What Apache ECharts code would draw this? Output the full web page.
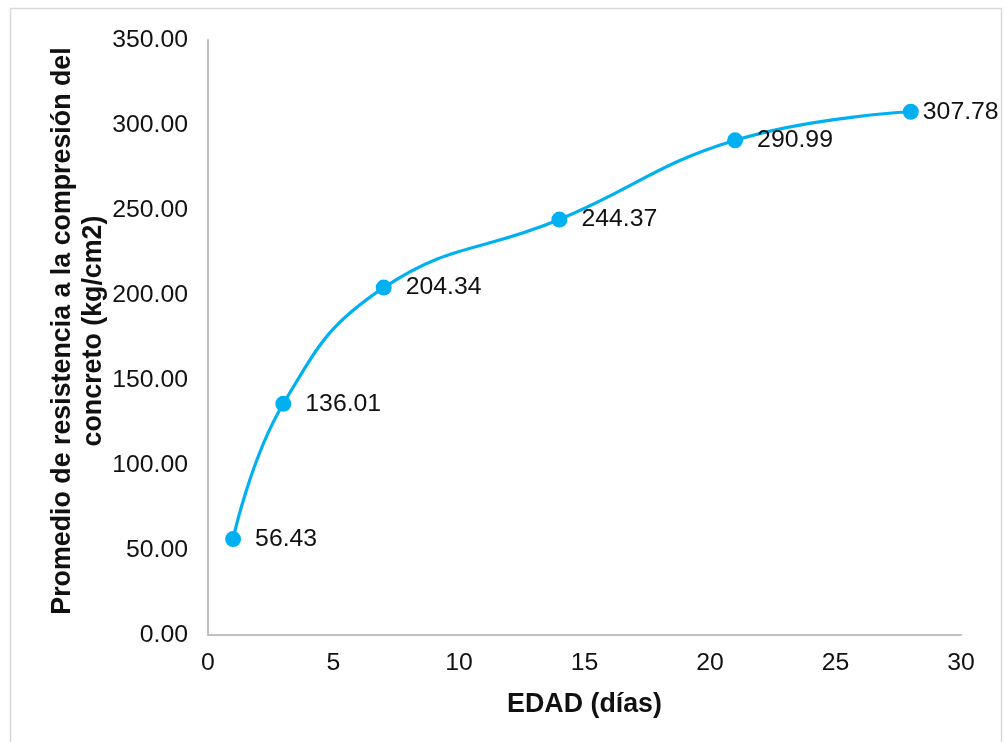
<!DOCTYPE html>
<html>
<head>
<meta charset="utf-8">
<script src="https://cdn.jsdelivr.net/npm/echarts@6/dist/echarts.min.js"></script>
<style>
html,body{margin:0;padding:0;background:#fff;}
#c{width:1005px;height:742px;}
</style>
</head>
<body>
<div id="c"></div>
<script>
var edadDias = [1, 3, 7, 14, 21, 28];
var resistencia = [56.43, 136.01, 204.34, 244.37, 290.99, 307.78];
var xTitle = 'EDAD (días)';
var yTitleLines = ['Promedio de resistencia a la compresión del', 'concreto (kg/cm2)'];

var chart = echarts.init(document.getElementById('c'), null, {renderer: 'canvas'});
var font = 'Liberation Sans, Arial, sans-serif';
var seriesData = edadDias.map(function (d, i) {
  var item = {value: [d, resistencia[i]]};
  if (i === edadDias.length - 1) { item.label = {distance: 4}; }
  return item;
});
chart.setOption({
  backgroundColor: '#fff',
  animation: false,
  grid: {left: 208, right: 44, top: 40, bottom: 107},
  xAxis: {
    type: 'value', min: 0, max: 30, interval: 5,
    axisLine: {show: true, lineStyle: {color: '#BFBFBF', width: 2}},
    axisTick: {show: false},
    splitLine: {show: false},
    axisLabel: {color: '#111', fontSize: 24.8, fontFamily: font, margin: 16},
    name: xTitle, nameLocation: 'middle', nameGap: 56,
    nameTextStyle: {color: '#111', fontSize: 26.8, fontWeight: 'bold', fontFamily: font}
  },
  yAxis: {
    type: 'value', min: 0, max: 350, interval: 50,
    axisLine: {show: true, lineStyle: {color: '#BFBFBF', width: 2}},
    axisTick: {show: false},
    splitLine: {show: false},
    axisLabel: {color: '#111', fontSize: 24.8, fontFamily: font, margin: 20,
      formatter: function (v) { return v.toFixed(2); }}
  },
  graphic: [
    {type: 'rect', shape: {x: 10.5, y: 8.5, width: 991, height: 745},
     style: {fill: 'none', stroke: '#D9D9D9', lineWidth: 1.5}, silent: true},
    {type: 'text', x: 78, y: 331, rotation: Math.PI / 2,
     style: {text: yTitleLines.join('\n'), fill: '#111', fontSize: 26.8, fontWeight: 'bold',
       fontFamily: font, align: 'center', verticalAlign: 'middle', lineHeight: 31}}
  ],
  series: [{
    type: 'line',
    data: seriesData,
    smooth: 0.45,
    symbol: 'circle', symbolSize: 16,
    lineStyle: {color: '#00B0F0', width: 3.2},
    itemStyle: {color: '#00B0F0'},
    label: {show: true, position: 'right', distance: 14, color: '#111', fontSize: 24.8, fontFamily: font,
      formatter: function (p) { return p.value[1].toFixed(2); }}
  }]
});
</script>
</body>
</html>
